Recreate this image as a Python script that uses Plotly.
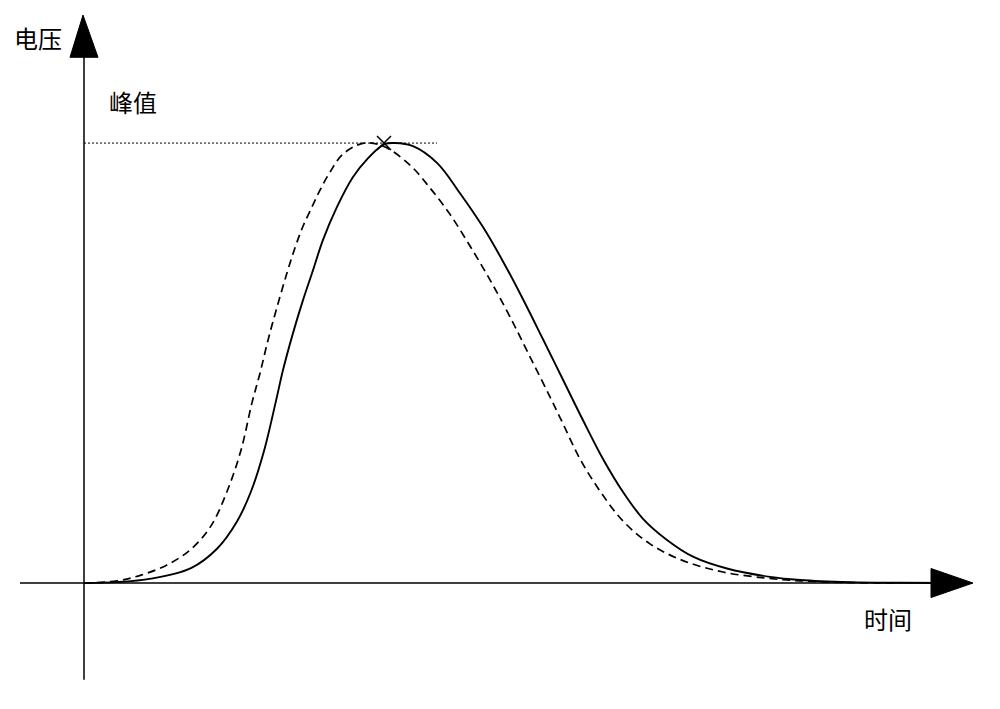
import plotly.graph_objects as go

# --- data (time in units of 100 px, voltage normalised to peak = 1) ---
t_solid = [0.0, 0.33, 0.67, 1.07, 1.33, 1.53, 1.67, 1.80, 1.92, 1.99, 2.09, 2.19, 2.29, 2.39,
           2.53, 2.69, 2.83, 3.00, 3.11, 3.29, 3.53, 3.76, 3.99, 4.19, 4.39, 4.59, 4.79, 4.99,
           5.19, 5.39, 5.59, 5.83, 6.09, 6.43, 6.86, 7.16, 7.66, 8.16, 8.66]
v_solid = [0.0, 0.002, 0.010, 0.034, 0.078, 0.140, 0.208, 0.300, 0.414, 0.484, 0.568, 0.643,
           0.711, 0.780, 0.855, 0.923, 0.963, 0.997, 1.0, 0.993, 0.955, 0.886, 0.809, 0.731,
           0.645, 0.554, 0.462, 0.370, 0.282, 0.207, 0.146, 0.098, 0.060, 0.033, 0.014, 0.007,
           0.002, 0.0005, 0.0]

t_dash = [0.0, 0.33, 0.57, 0.83, 1.07, 1.27, 1.43, 1.57, 1.68, 1.76, 1.84, 1.93, 2.03, 2.11,
          2.19, 2.28, 2.36, 2.46, 2.59, 2.80, 3.00, 3.26, 3.46, 3.66, 3.86, 4.06, 4.26, 4.46,
          4.66, 4.79, 4.96, 5.16, 5.39, 5.66, 5.99, 6.39, 6.83, 7.16, 7.66, 8.16]
v_dash = [0.0, 0.005, 0.018, 0.041, 0.077, 0.130, 0.208, 0.302, 0.410, 0.477, 0.552, 0.627,
          0.705, 0.762, 0.811, 0.855, 0.893, 0.934, 0.975, 1.0, 0.992, 0.950, 0.898, 0.838,
          0.766, 0.689, 0.605, 0.514, 0.423, 0.362, 0.282, 0.209, 0.141, 0.089, 0.051, 0.025,
          0.011, 0.005, 0.001, 0.0]

peak_t = [3.0]
peak_v = [1.0]

labels = {"y": "电压", "x": "时间", "peak": "峰值"}

# ranges compensate for the 8px page margin of the html body
X_MIN, X_MAX = -0.76, 9.24
Y_MIN, Y_MAX = -0.3045, 1.307

fig = go.Figure()

fig.add_trace(go.Scatter(x=t_dash, y=v_dash, mode="lines",
                         line=dict(color="black", width=1.7, dash="8px,5px", shape="spline", smoothing=1.0),
                         hoverinfo="skip"))
fig.add_trace(go.Scatter(x=t_solid, y=v_solid, mode="lines",
                         line=dict(color="black", width=1.9, shape="spline", smoothing=1.0),
                         hoverinfo="skip"))

# peak reference dotted line
fig.add_shape(type="line", x0=0, x1=3.53, y0=peak_v[0], y1=peak_v[0],
              line=dict(color="black", width=1, dash="2px,2px"))

fig.add_trace(go.Scatter(x=peak_t, y=peak_v, mode="markers",
                         marker=dict(symbol="x-thin", size=14, line=dict(color="black", width=1.5)),
                         hoverinfo="skip"))

# axes with arrows
fig.add_shape(type="line", x0=0, x1=0, y0=-0.22, y1=1.2, line=dict(color="black", width=1.5))
fig.add_shape(type="path", path="M -0.14 1.195 L 0.14 1.195 L -0.01 1.291 Z",
              fillcolor="black", line=dict(color="black", width=1))
fig.add_shape(type="line", x0=-0.64, x1=8.5, y0=0, y1=0, line=dict(color="black", width=1.5))
fig.add_shape(type="path", path="M 8.47 0.033 L 8.47 -0.033 L 8.89 0 Z",
              fillcolor="black", line=dict(color="black", width=1))

font = dict(family="Noto Sans CJK SC", size=24, color="black")
fig.add_annotation(x=-0.46, y=1.239, text=labels["y"], showarrow=False, font=font)
fig.add_annotation(x=0.49, y=1.095, text=labels["peak"], showarrow=False, font=font)
fig.add_annotation(x=8.04, y=-0.080, text=labels["x"], showarrow=False, font=font)

fig.update_layout(
    width=1000, height=709,
    margin=dict(l=0, r=0, t=0, b=0),
    paper_bgcolor="white", plot_bgcolor="white",
    showlegend=False,
    xaxis=dict(range=[X_MIN, X_MAX], visible=False, fixedrange=True),
    yaxis=dict(range=[Y_MIN, Y_MAX], visible=False, fixedrange=True),
)

fig.write_html("out.html")
